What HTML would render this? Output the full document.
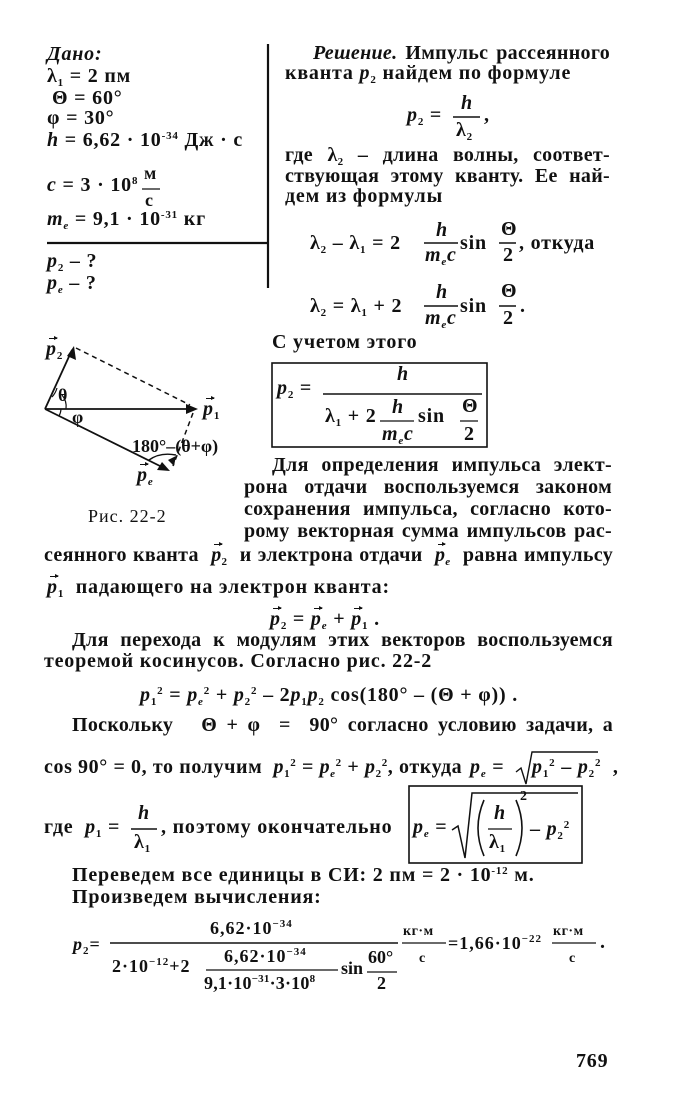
<!DOCTYPE html>
<html><head><meta charset="utf-8">
<style>
html,body{margin:0;padding:0;background:#fff;}
body{width:677px;height:1116px;position:relative;overflow:hidden;color:#111;}
.t{position:absolute;white-space:nowrap;font:bold 20px/19px "Liberation Serif","DejaVu Serif",serif;letter-spacing:0.8px;}
.j{position:absolute;white-space:nowrap;font:bold 20px/19px "Liberation Serif","DejaVu Serif",serif;text-align:justify;text-align-last:justify;letter-spacing:0.3px;}
.s{font-size:18px;line-height:17px;letter-spacing:1px;}
.xs{font-size:14px;line-height:14px;letter-spacing:0.5px;}
i{font-style:italic;}
sub{font-size:11px;vertical-align:-4px;line-height:0;}
sup{font-size:11px;vertical-align:7px;line-height:0;}
.v{position:relative;display:inline-block;}
.v:before{content:"";position:absolute;left:3px;right:0px;top:-2px;border-top:1.4px solid #111;}
.v:after{content:"";position:absolute;right:-1px;top:-4.5px;border-left:4px solid #111;border-top:2.5px solid transparent;border-bottom:2.5px solid transparent;}
</style></head><body>

<svg width="677" height="1116" style="position:absolute;left:0;top:0" xmlns="http://www.w3.org/2000/svg">
<g stroke="#111" fill="none">
<line x1="268" y1="44" x2="268" y2="288" stroke-width="2.2"/>
<line x1="47" y1="243" x2="268" y2="243" stroke-width="2.2"/>
<line x1="142" y1="189" x2="160" y2="189" stroke-width="1.2"/>
<line x1="453" y1="117" x2="480" y2="117" stroke-width="1.4"/>
<line x1="424" y1="243" x2="458" y2="243" stroke-width="1.4"/>
<line x1="499" y1="243" x2="516" y2="243" stroke-width="1.4"/>
<line x1="424" y1="306" x2="458" y2="306" stroke-width="1.4"/>
<line x1="499" y1="306" x2="516" y2="306" stroke-width="1.4"/>
<rect x="272" y="363" width="215" height="84" stroke-width="1.6"/>
<line x1="323" y1="394" x2="482" y2="394" stroke-width="1.4"/>
<line x1="380" y1="421" x2="414" y2="421" stroke-width="1.3"/>
<line x1="460" y1="421" x2="478" y2="421" stroke-width="1.3"/>
<line x1="45" y1="409" x2="72" y2="350" stroke-width="1.8"/>
<line x1="45" y1="409" x2="195" y2="409" stroke-width="1.8"/>
<line x1="45" y1="409" x2="166" y2="469" stroke-width="1.8"/>
<line x1="76" y1="348" x2="190" y2="405" stroke-width="1.5" stroke-dasharray="5,4"/>
<line x1="193" y1="413" x2="173" y2="466" stroke-width="1.5" stroke-dasharray="5,4"/>
<path d="M57 388 A22 22 0 0 1 52 397" stroke-width="1.2"/>
<path d="M62 395 A18 18 0 0 1 66 409" stroke-width="1.2"/>
<path d="M61 409 A16 16 0 0 1 59 416" stroke-width="1.2"/>
<path d="M149 460 Q160 452 176 455" stroke-width="1.4"/>
</g>
<g fill="#111">
<polygon points="74,346 76,360 67,356"/>
<polygon points="198,409 186,404 186,414"/>
<polygon points="170,471 157,470 162,462"/>
<polygon points="174,466 168,460 176,456"/>
</g>
<g stroke="#111" fill="none">
<line x1="131" y1="829" x2="157" y2="829" stroke-width="1.4"/>
<path d="M516 772 L521 768 L526 784 L532 752 L598 752" stroke-width="1.4"/>
<rect x="409" y="786" width="173" height="77" stroke-width="1.6"/>
<path d="M452 830 L458 826 L465 858 L472 793 L578 793" stroke-width="1.5"/>
<path d="M484 800 Q472 828 484 856" stroke-width="1.6"/>
<path d="M516 800 Q528 828 516 856" stroke-width="1.6"/>
<line x1="488" y1="829" x2="512" y2="829" stroke-width="1.3"/>
<line x1="110" y1="943" x2="398" y2="943" stroke-width="1.5"/>
<line x1="206" y1="970" x2="338" y2="970" stroke-width="1.3"/>
<line x1="367" y1="972" x2="397" y2="972" stroke-width="1.3"/>
<line x1="402" y1="943" x2="446" y2="943" stroke-width="1.3"/>
<line x1="552" y1="943" x2="596" y2="943" stroke-width="1.3"/>
</g>
</svg>

<div class="t" style="left:47px;top:45px"><i>Дано:</i></div>
<div class="t" style="left:47px;top:67px">λ<sub>1</sub> = 2 пм</div>
<div class="t" style="left:52px;top:89px">Θ = 60°</div>
<div class="t" style="left:47px;top:109px">φ = 30°</div>
<div class="t" style="left:47px;top:131px"><i>h</i> = 6,62 · 10<sup>-34</sup> Дж · с</div>
<div class="t" style="left:47px;top:176px"><i>c</i> = 3 · 10<sup>8</sup></div>
<div class="t s" style="left:144px;top:165px">м</div>
<div class="t s" style="left:145px;top:192px">с</div>
<div class="t" style="left:47px;top:210px"><i>m<sub>e</sub></i> = 9,1 · 10<sup>-31</sup> кг</div>
<div class="t" style="left:47px;top:252px"><i>p</i><sub>2</sub> – ?</div>
<div class="t" style="left:47px;top:274px"><i>p<sub>e</sub></i> – ?</div>

<div class="j" style="left:313px;top:44px;width:297px"><i>Решение.</i> Импульс рассеянного</div>
<div class="t" style="left:285px;top:64px">кванта <i>p</i><sub>2</sub> найдем по формуле</div>
<div class="t" style="left:407px;top:106px"><i>p</i><sub>2</sub> =</div>
<div class="t" style="left:461px;top:94px"><i>h</i></div>
<div class="t" style="left:456px;top:121px">λ<sub>2</sub></div>
<div class="t" style="left:484px;top:106px">,</div>
<div class="j" style="left:285px;top:146px;width:325px">где λ<sub>2</sub> – длина волны, соответ-</div>
<div class="j" style="left:285px;top:167px;width:325px">ствующая этому кванту. Ее най-</div>
<div class="t" style="left:285px;top:187px">дем из формулы</div>

<div class="t" style="left:310px;top:234px">λ<sub>2</sub> – λ<sub>1</sub> = 2</div>
<div class="t" style="left:436px;top:221px"><i>h</i></div>
<div class="t" style="left:425px;top:246px"><i>m<sub>e</sub>c</i></div>
<div class="t" style="left:460px;top:234px">sin</div>
<div class="t" style="left:501px;top:220px">Θ</div>
<div class="t" style="left:503px;top:246px">2</div>
<div class="t" style="left:519px;top:234px">, откуда</div>

<div class="t" style="left:310px;top:297px">λ<sub>2</sub> = λ<sub>1</sub> + 2</div>
<div class="t" style="left:436px;top:283px"><i>h</i></div>
<div class="t" style="left:425px;top:309px"><i>m<sub>e</sub>c</i></div>
<div class="t" style="left:460px;top:297px">sin</div>
<div class="t" style="left:501px;top:282px">Θ</div>
<div class="t" style="left:503px;top:309px">2</div>
<div class="t" style="left:520px;top:297px">.</div>

<div class="t" style="left:272px;top:333px">С учетом этого</div>
<div class="t" style="left:277px;top:379px"><i>p</i><sub>2</sub> =</div>
<div class="t" style="left:397px;top:365px"><i>h</i></div>
<div class="t" style="left:325px;top:407px">λ<sub>1</sub> + 2</div>
<div class="t" style="left:392px;top:398px"><i>h</i></div>
<div class="t" style="left:382px;top:425px"><i>m<sub>e</sub>c</i></div>
<div class="t" style="left:418px;top:407px">sin</div>
<div class="t" style="left:462px;top:397px">Θ</div>
<div class="t" style="left:464px;top:425px">2</div>

<div class="j" style="left:272px;top:456px;width:340px">Для определения импульса элект-</div>
<div class="j" style="left:244px;top:478px;width:368px">рона отдачи воспользуемся законом</div>
<div class="j" style="left:244px;top:500px;width:368px">сохранения импульса, согласно кото-</div>
<div class="j" style="left:244px;top:522px;width:368px">рому векторная сумма импульсов рас-</div>

<div class="t" style="left:46px;top:340px"><i class="v">p</i><sub>2</sub></div>
<div class="t s" style="left:58px;top:387px">θ</div>
<div class="t s" style="left:72px;top:409px">φ</div>
<div class="t" style="left:203px;top:400px"><i class="v">p</i><sub>1</sub></div>
<div class="t s" style="left:132px;top:438px;letter-spacing:0">180°–(θ+φ)</div>
<div class="t" style="left:137px;top:466px"><i class="v">p</i><sub><i>e</i></sub></div>
<div class="t s" style="left:88px;top:508px;font-weight:normal">Рис. 22-2</div>

<div class="j" style="left:44px;top:546px;width:569px">сеянного кванта &nbsp;<i class="v">p</i><sub>2</sub>&nbsp; и электрона отдачи &nbsp;<i class="v">p</i><sub><i>e</i></sub>&nbsp; равна импульсу</div>
<div class="t" style="left:47px;top:578px"><i class="v">p</i><sub>1</sub>&nbsp; падающего на электрон кванта:</div>
<div class="t" style="left:270px;top:610px"><i class="v">p</i><sub>2</sub> = <i class="v">p</i><sub><i>e</i></sub> + <i class="v">p</i><sub>1</sub> .</div>
<div class="j" style="left:72px;top:631px;width:541px">Для перехода к модулям этих векторов воспользуемся</div>
<div class="t" style="left:44px;top:652px">теоремой косинусов. Согласно рис. 22-2</div>
<div class="t" style="left:140px;top:686px"><i>p</i><sub>1</sub><sup>2</sup> = <i>p<sub>e</sub></i><sup>2</sup> + <i>p</i><sub>2</sub><sup>2</sup> – 2<i>p</i><sub>1</sub><i>p</i><sub>2</sub> cos(180° – (Θ + φ)) .</div>
<div class="j" style="left:72px;top:716px;width:541px">Поскольку &nbsp; Θ + φ &nbsp;= &nbsp;90° согласно условию задачи, а</div>
<div class="t" style="left:44px;top:758px;letter-spacing:0.6px">cos 90° = 0, то получим &nbsp;<i>p</i><sub>1</sub><sup>2</sup> = <i>p<sub>e</sub></i><sup>2</sup> + <i>p</i><sub>2</sub><sup>2</sup>, откуда</div>
<div class="t" style="left:470px;top:758px"><i>p<sub>e</sub></i> =</div>
<div class="t" style="left:532px;top:758px"><i>p</i><sub>1</sub><sup>2</sup> – <i>p</i><sub>2</sub><sup>2</sup> &nbsp;,</div>

<div class="t" style="left:44px;top:818px">где &nbsp;<i>p</i><sub>1</sub> =</div>
<div class="t" style="left:138px;top:804px"><i>h</i></div>
<div class="t" style="left:134px;top:833px">λ<sub>1</sub></div>
<div class="t" style="left:161px;top:818px">, поэтому окончательно</div>
<div class="t" style="left:413px;top:818px"><i>p<sub>e</sub></i> =</div>
<div class="t" style="left:494px;top:804px"><i>h</i></div>
<div class="t" style="left:489px;top:833px">λ<sub>1</sub></div>
<div class="t xs" style="left:520px;top:790px">2</div>
<div class="t" style="left:530px;top:820px">– <i>p</i><sub>2</sub><sup>2</sup></div>

<div class="t" style="left:72px;top:866px">Переведем все единицы в СИ: 2 пм = 2 · 10<sup>-12</sup> м.</div>
<div class="t" style="left:72px;top:888px">Произведем вычисления:</div>

<div class="t s" style="left:73px;top:936px"><i>p</i><sub>2</sub>=</div>
<div class="t s" style="left:210px;top:920px">6,62·10<sup>−34</sup></div>
<div class="t s" style="left:112px;top:958px">2·10<sup>−12</sup>+2</div>
<div class="t s" style="left:224px;top:948px">6,62·10<sup>−34</sup></div>
<div class="t s" style="left:204px;top:975px;letter-spacing:0.2px">9,1·10<sup>−31</sup>·3·10<sup>8</sup></div>
<div class="t s" style="left:341px;top:960px;letter-spacing:0">sin</div>
<div class="t s" style="left:368px;top:949px;letter-spacing:0">60°</div>
<div class="t s" style="left:377px;top:975px">2</div>
<div class="t xs" style="left:403px;top:925px">кг·м</div>
<div class="t xs" style="left:419px;top:952px">с</div>
<div class="t s" style="left:448px;top:935px">=1,66·10<sup>−22</sup></div>
<div class="t xs" style="left:553px;top:925px">кг·м</div>
<div class="t xs" style="left:569px;top:952px">с</div>
<div class="t" style="left:600px;top:933px">.</div>

<div class="t" style="left:576px;top:1052px;font-size:20px">769</div>
</body></html>
